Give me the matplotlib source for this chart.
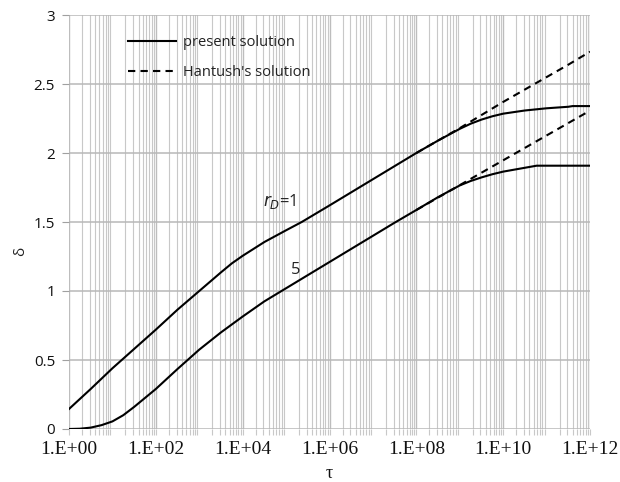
import numpy as np
import matplotlib
matplotlib.use("Agg")
import matplotlib.pyplot as plt
from matplotlib.ticker import LogLocator, FixedLocator, NullFormatter, FuncFormatter

# ---- data ----
log_tau_rd1 = [0, 0.5, 1, 1.5, 2, 2.5, 3, 3.5, 3.75, 4, 4.25, 4.5, 5, 5.36, 6, 6.5, 7,
               7.5, 8, 8.5, 9, 9.25, 9.5, 9.75, 10, 10.5, 11, 11.5, 11.6, 12]
delta_rd1 = [0.145, 0.29, 0.44, 0.58, 0.72, 0.865, 1.00, 1.135, 1.20, 1.255, 1.305,
             1.355, 1.44, 1.50, 1.62, 1.715, 1.81, 1.905, 2.00, 2.09, 2.175, 2.212,
             2.242, 2.266, 2.285, 2.308, 2.324, 2.335, 2.34, 2.34]

log_tau_rd5 = [0, 0.25, 0.5, 0.75, 1, 1.25, 1.5, 1.75, 2, 2.5, 3, 3.5, 4, 4.5, 5, 5.5,
               6, 6.5, 7, 7.5, 8, 8.5, 9, 9.25, 9.5, 9.75, 10, 10.5, 10.77, 11, 12]
delta_rd5 = [0.0, 0.002, 0.01, 0.028, 0.055, 0.10, 0.16, 0.225, 0.29, 0.435, 0.575,
             0.70, 0.815, 0.925, 1.02, 1.115, 1.21, 1.305, 1.40, 1.495, 1.587, 1.68,
             1.765, 1.797, 1.823, 1.846, 1.865, 1.893, 1.908, 1.908, 1.908]

log_tau_h = [8, 8.5, 9, 9.5, 10, 10.5, 11, 11.5, 12]
delta_h_rd1 = [2.00, 2.09, 2.18, 2.275, 2.37, 2.46, 2.55, 2.64, 2.734]
delta_h_rd5 = [1.587, 1.677, 1.767, 1.857, 1.947, 2.037, 2.127, 2.217, 2.307]

xtick_exp = [0, 2, 4, 6, 8, 10, 12]
yticks = [0, 0.5, 1, 1.5, 2, 2.5, 3]

label_rd1 = ("$r_D$=1", 7.2e4, 1.645)
label_rd5 = ("5", 1.7e5, 1.152)

legend_labels = ["present solution", "Hantush's solution"]

# ---- figure ----
fig = plt.figure(figsize=(6.2, 4.82), dpi=100)
ax = fig.add_axes([69 / 620, 53 / 482, 521 / 620, 414 / 482])

tau1 = 10.0 ** np.array(log_tau_rd1)
tau5 = 10.0 ** np.array(log_tau_rd5)
tauh = 10.0 ** np.array(log_tau_h)

l1, = ax.plot(tau1, delta_rd1, color="black", lw=1.5, zorder=3)
ax.plot(tau5, delta_rd5, color="black", lw=1.5, zorder=3)
l2, = ax.plot(tauh, delta_h_rd1, color="black", lw=1.5, ls=(0, (3.5, 2.5)), zorder=2)
ax.plot(tauh, delta_h_rd5, color="black", lw=1.5, ls=(0, (3.5, 2.5)), zorder=2)

ax.set_xscale("log")
ax.set_xlim(1, 1e12)
ax.set_ylim(0, 3)

ax.xaxis.set_major_locator(FixedLocator([10.0 ** e for e in xtick_exp]))
ax.xaxis.set_minor_locator(LogLocator(base=10, subs=np.arange(2, 10), numticks=100))
ax.xaxis.set_minor_formatter(NullFormatter())
ax.xaxis.set_major_formatter(FuncFormatter(lambda v, p: "1.E+%02d" % int(round(np.log10(v)))))
ax.yaxis.set_major_locator(FixedLocator(yticks))
ax.yaxis.set_major_formatter(FuncFormatter(lambda v, p: "%g" % v))

gc = "#c8c8c8"
ax.grid(True, which="major", axis="x", color="#bdbdbd", lw=1.0)
ax.grid(True, which="minor", axis="x", color=gc, lw=0.8)
ax.grid(True, which="major", axis="y", color="#b8b8b8", lw=1.1)
ax.set_axisbelow(True)
for s in ax.spines.values():
    s.set_visible(False)

ax.tick_params(axis="x", which="both", direction="out", length=4, color=gc, width=0.8,
               pad=5)
ax.tick_params(axis="y", which="major", direction="out", length=5, color="#a0a0a0",
               width=0.8, pad=5)
for t in ax.get_xticklabels():
    t.set_fontfamily("Liberation Serif")
    t.set_fontsize(14)
    t.set_color("#111111")
for t in ax.get_yticklabels():
    t.set_fontfamily("Open Sans")
    t.set_fontsize(11)
    t.set_color("#111111")

ax.text(label_rd1[1], label_rd1[2], label_rd1[0], fontsize=12, family="Open Sans",
        ha="center", va="center", color="#222222")
ax.text(label_rd5[1], label_rd5[2], label_rd5[0], fontsize=12, family="Open Sans",
        ha="center", va="center", color="#222222")

leg = ax.legend([l1, l2], legend_labels, loc="upper left",
                bbox_to_anchor=(59 / 521, 1 - 20 / 414), frameon=False,
                prop={"family": "Open Sans", "size": 10.5}, handlelength=3.3,
                handletextpad=0.5, labelspacing=1.05, borderpad=0, borderaxespad=0)
for t in leg.get_texts():
    t.set_color("#222222")

fig.text(21 / 620, 1 - 251 / 482, "δ", rotation=90, fontsize=11, family="Open Sans",
         ha="center", va="center", color="#222222")
fig.text(329 / 620, 1 - 465 / 482, "τ", fontsize=13, family="Liberation Serif",
         ha="center", va="top", color="#111111")

fig.savefig("out.png", dpi=100, facecolor="white")
